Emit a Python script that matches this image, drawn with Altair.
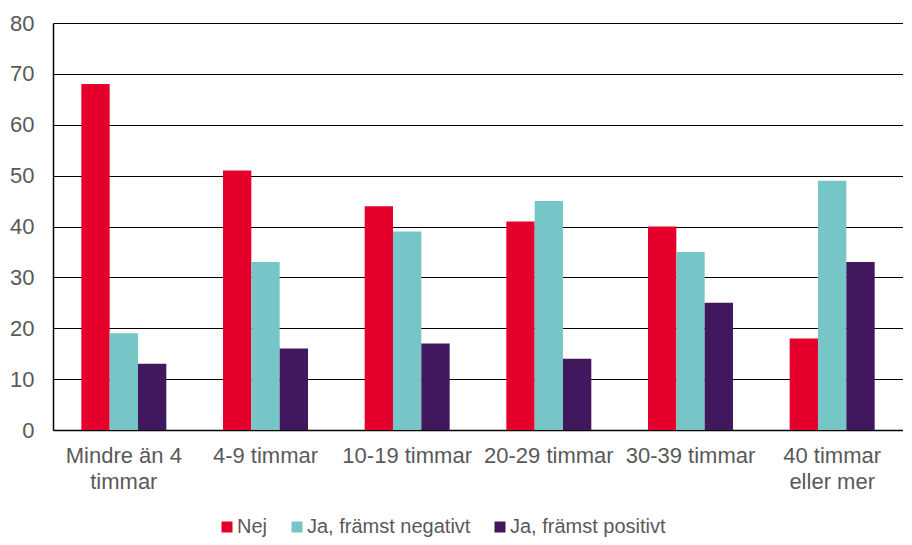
import altair as alt
import pandas as pd

categories = ["Mindre än 4|timmar", "4-9 timmar", "10-19 timmar", "20-29 timmar", "30-39 timmar", "40 timmar|eller mer"]
series = ["Nej", "Ja, främst negativt", "Ja, främst positivt"]
nej = [68, 51, 44, 41, 40, 18]
negativt = [19, 33, 39, 45, 35, 49]
positivt = [13, 16, 17, 14, 25, 33]
colors = ["#E4002B", "#76C6C7", "#41185E"]

rows = []
for i, c in enumerate(categories):
    for s, vals in zip(series, [nej, negativt, positivt]):
        rows.append({"cat": c, "serie": s, "value": vals[i]})
df = pd.DataFrame(rows)

font = "Liberation Sans"
grey = "#595959"
W, H = 850, 407

chart = alt.Chart(df).mark_bar().encode(
    x=alt.X("cat:N", sort=categories, title=None,
            scale=alt.Scale(paddingInner=0.4, paddingOuter=0.2),
            axis=alt.Axis(labelAngle=0, labelExpr="split(datum.label, '|')",
                          labelFont=font, labelFontSize=22, labelColor=grey,
                          labelPadding=15, labelLineHeight=26, ticks=False,
                          domainColor="#000000", domainWidth=1.5, labelBaseline="top")),
    xOffset=alt.XOffset("serie:N", sort=series),
    y=alt.Y("value:Q", title=None,
            scale=alt.Scale(domain=[0, 80]),
            axis=alt.Axis(values=list(range(0, 81, 10)), labelFont=font, labelFontSize=22,
                          labelColor=grey, labelPadding=19, ticks=False,
                          gridColor="#000000", gridWidth=1, gridOpacity=1,
                          domainColor="#000000", domainWidth=1.5)),
    color=alt.Color("serie:N", sort=series, title=None,
                    scale=alt.Scale(domain=series, range=colors),
                    legend=alt.Legend(orient="none", direction="horizontal",
                                      legendX=164, legendY=H + 87,
                                      symbolType="square", symbolSize=121, symbolStrokeWidth=0,
                                      labelFont=font, labelFontSize=20, labelColor=grey,
                                      labelLimit=0, columnPadding=19, labelOffset=0)),
).properties(
    width=W, height=H,
    padding={"top": 4, "left": 1, "right": 0, "bottom": 0},
).configure_view(stroke=None)

chart.save("out.html", embed_options={"renderer": "svg", "actions": False})
